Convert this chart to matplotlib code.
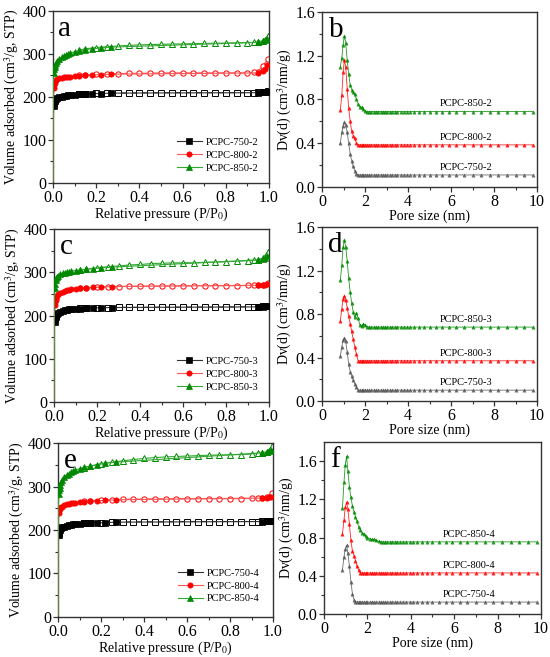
import matplotlib
matplotlib.use('Agg')
import matplotlib.pyplot as plt
import numpy as np

plt.rcParams['font.family'] = ['Liberation Serif', 'DejaVu Serif']
plt.rcParams['mathtext.fontset'] = 'stix'

# ---- isotherm data (relative pressure grid shared by all samples) ----
ads_p = [0.00001, 0.0001, 0.0005, 0.001, 0.002, 0.004, 0.006, 0.008, 0.01, 0.015,
         0.02, 0.03, 0.04, 0.05, 0.06, 0.07, 0.08, 0.1, 0.12, 0.15, 0.18, 0.22,
         0.27, 0.95, 0.97, 0.98, 0.99]
des_p = [0.995, 0.97, 0.95, 0.93, 0.9, 0.85, 0.8, 0.75, 0.7, 0.65, 0.6, 0.55,
         0.5, 0.45, 0.4, 0.35, 0.3, 0.25, 0.2, 0.15, 0.12]

ads_750_2 = [3, 40, 110, 140, 165, 180, 186, 190, 193, 196, 198, 200, 201, 202, 203,
             204, 204.5, 205.5, 206, 207, 207.5, 208, 209, 210, 210.5, 211, 212]
des_750_2 = [213, 211, 210.5, 210, 210, 210, 210, 210, 210, 210, 210, 210, 210, 210,
             209.5, 209.5, 209, 209, 208.5, 208, 207]
ads_800_2 = [3, 50, 130, 170, 200, 220, 228, 233, 236, 239, 241, 243, 244.5, 245.5,
             246.5, 247, 247.5, 248.5, 249, 250, 251, 252, 253, 256, 260, 265, 274]
des_800_2 = [288, 272, 259, 257, 256, 256, 256, 256, 256, 256, 256, 256, 256, 255.5,
             255, 255, 254, 253.5, 252.5, 251, 250]
ads_850_2 = [3, 60, 150, 200, 235, 255, 264, 270, 274, 279, 283, 288, 292, 295, 298,
             300, 302, 305, 307, 310, 312, 314, 316, 327, 330, 332, 335]
des_850_2 = [342, 331, 328, 327, 326.5, 326, 325.5, 325, 324.5, 324, 323.5, 323,
             322.5, 322, 321, 320, 318.5, 317, 315, 312, 309]

ads_750_3 = [3, 45, 120, 150, 172, 186, 192, 196, 199, 203, 205, 208, 210, 212, 213,
             214, 214.5, 215.5, 216, 217, 217.5, 218, 218.5, 220, 220.5, 221, 221.5]
des_750_3 = [222, 221, 220.5, 220, 220, 220, 219.5, 219.5, 219.5, 219.5, 219.5, 219.5,
             219.5, 219, 219, 219, 219, 218.5, 218, 217.5, 216.5]
ads_800_3 = [3, 50, 130, 175, 205, 225, 232, 237, 241, 246, 249, 252, 255, 257, 258.5,
             259.5, 260.5, 261.5, 262.5, 264, 265, 266, 267, 270, 270.5, 271, 272]
des_800_3 = [275, 271, 270, 269.5, 269.5, 269, 269, 269, 269, 269, 268.5, 268.5,
             268.5, 268, 268, 267.5, 267, 266.5, 265.5, 264, 263]
ads_850_3 = [3, 60, 150, 205, 240, 264, 274, 281, 286, 290, 292, 296, 298, 299, 300.5,
             301.5, 302.5, 304, 305.5, 307, 308.5, 310, 312, 328.5, 331, 334, 338]
des_850_3 = [348, 333, 329, 328, 327, 325.5, 324.5, 323.5, 323, 322, 322, 321.5, 321,
             320, 318, 317, 314.5, 313, 310, 307, 305]

ads_750_4 = [3, 45, 120, 150, 175, 188, 193, 199, 203, 205.5, 207, 208, 210, 211.5,
             212.5, 213, 213.5, 214.5, 215.5, 216, 216.5, 217, 218, 219.5, 220, 220.5, 221]
des_750_4 = [221, 220.5, 220, 219.5, 219.5, 219.5, 219.5, 219.5, 219.5, 219.5, 219.5,
             219.5, 219, 219, 219, 218.5, 218.5, 218, 217, 216, 215.5]
ads_800_4 = [3, 55, 140, 185, 215, 238, 245, 248, 251, 253, 254, 257, 259, 260.5,
             261.5, 262.5, 263, 264, 265, 266, 267, 268, 269.5, 273.5, 274.5, 275.5, 277]
des_800_4 = [285, 276, 274, 273, 272.5, 272, 272, 272, 272, 272, 272, 272, 271.5, 271.5,
             271, 271, 270.5, 270, 268.5, 267, 266]
ads_850_4 = [3, 70, 170, 225, 262, 283, 291, 297, 303, 310, 315.5, 323, 326.5, 329.5,
             332.5, 335, 337, 341, 344, 347, 350, 353.5, 356, 377.5, 380, 381.5, 384]
des_850_4 = [392, 379, 377.5, 376, 374.5, 373.5, 373, 372.5, 372, 371, 370, 369, 368,
             366.5, 364.5, 362, 359, 356, 352.5, 347, 343]

# ---- pore size distribution data ----
psd_x = [0.85, 0.92, 0.98, 1.04, 1.1, 1.17, 1.24, 1.31, 1.38, 1.45, 1.52, 1.6, 1.68,
         1.76, 1.84, 1.92, 2.0, 2.1, 2.2, 2.3, 2.4, 2.52, 2.62, 2.72, 2.82, 2.92,
         3.02, 3.14, 3.26, 3.38, 3.5, 3.65, 3.8, 3.95, 4.1, 4.3, 4.5, 4.75, 5.0, 5.3,
         5.6, 5.9, 6.25, 6.6, 7.0, 7.4, 7.8, 8.2, 8.6, 9.0, 9.4, 9.8]
n_x = len(psd_x)

def with_plateau(head, level):
    # curve read up to where it goes flat, then the flat level
    return head + [level] * (n_x - len(head))

psd_750_2 = with_plateau([0.40, 0.50, 0.56, 0.59, 0.57, 0.50, 0.40, 0.30, 0.24, 0.19,
                          0.15, 0.12], 0.11)
psd_800_2 = with_plateau([0.70, 0.84, 1.05, 1.16, 1.10, 0.90, 0.72, 0.60, 0.51, 0.47,
                          0.45, 0.40], 0.385)
psd_850_2 = with_plateau([1.10, 1.18, 1.30, 1.38, 1.32, 1.16, 1.03, 0.93, 0.89, 0.87,
                          0.85, 0.80, 0.76, 0.73, 0.73, 0.71, 0.695], 0.69)

psd_750_3 = with_plateau([0.41, 0.50, 0.56, 0.58, 0.55, 0.45, 0.34, 0.27, 0.23, 0.19,
                          0.16, 0.13], 0.10)
psd_800_3 = with_plateau([0.74, 0.85, 0.94, 0.97, 0.93, 0.86, 0.78, 0.71, 0.64, 0.57,
                          0.50, 0.43], 0.37)
psd_850_3 = with_plateau([1.11, 1.25, 1.42, 1.48, 1.42, 1.29, 1.13, 1.00, 0.90, 0.82,
                          0.77, 0.81, 0.76, 0.70, 0.69, 0.71, 0.70, 0.685], 0.68)

psd_750_4 = with_plateau([0.46, 0.60, 0.68, 0.72, 0.64, 0.50, 0.34, 0.21, 0.15, 0.13],
                         0.125)
psd_800_4 = with_plateau([0.84, 0.98, 1.12, 1.17, 1.10, 0.94, 0.77, 0.66, 0.61, 0.56,
                          0.50, 0.46], 0.43)
psd_850_4 = with_plateau([1.11, 1.38, 1.56, 1.65, 1.50, 1.33, 1.22, 1.13, 1.07, 1.02,
                          0.97, 0.91, 0.88, 0.85, 0.84, 0.82, 0.80, 0.79, 0.78, 0.78,
                          0.77, 0.76], 0.755)

temps = ['750', '800', '850']
colors_iso = ['black', '#ff0000', '#008800']
colors_psd = ['#555555', '#ff0000', '#008800']
line_iso = ['#333333', '#ff5555', '#33aa33']
markers = ['s', 'o', '^']

iso_sets = {
    '2': [(ads_750_2, des_750_2), (ads_800_2, des_800_2), (ads_850_2, des_850_2)],
    '3': [(ads_750_3, des_750_3), (ads_800_3, des_800_3), (ads_850_3, des_850_3)],
    '4': [(ads_750_4, des_750_4), (ads_800_4, des_800_4), (ads_850_4, des_850_4)],
}
psd_sets = {
    '2': [psd_750_2, psd_800_2, psd_850_2],
    '3': [psd_750_3, psd_800_3, psd_850_3],
    '4': [psd_750_4, psd_800_4, psd_850_4],
}

fig = plt.figure(figsize=(5.5, 6.57), dpi=100)

iso_pos = [[0.0964, 0.7215, 0.3927, 0.2618],
           [0.0982, 0.3881, 0.3910, 0.2633],
           [0.1055, 0.0609, 0.3910, 0.2648]]
psd_pos = [[0.5855, 0.7154, 0.3910, 0.2664],
           [0.5855, 0.3896, 0.3910, 0.2648],
           [0.5891, 0.0654, 0.3945, 0.2618]]
iso_letters = ['a', 'c', 'e']
psd_letters = ['b', 'd', 'f']
psd_ylim = [1.6, 1.6, 1.8]
legend_pad = [0.6, 0.6, 0.9]
ads_marked = list(range(5, len(ads_p)))


def style_axes(ax):
    for sp in ax.spines.values():
        sp.set_color('#333333')
        sp.set_linewidth(1.0)
    ax.tick_params(which='both', direction='out', top=False, right=False,
                   colors='#333333', labelcolor='black', labelsize=11.5)
    ax.tick_params(which='major', length=3.5, width=0.9, pad=1.2)
    ax.tick_params(which='minor', length=2, width=0.8)


for i, key in enumerate(['2', '3', '4']):
    # isotherm panel
    ax = fig.add_axes(iso_pos[i])
    for j, (ads, des) in enumerate(iso_sets[key]):
        ax.plot(des_p, des, '-', color=line_iso[j], lw=0.8, marker=markers[j], ms=3.8,
                mfc='white', mec=colors_iso[j], mew=0.7, zorder=2)
        ax.plot(ads_p, ads, '-', color=line_iso[j], lw=0.8, marker=markers[j], ms=3.8,
                mfc=colors_iso[j], mec=colors_iso[j], mew=0.5, zorder=3,
                markevery=ads_marked, label='PCPC-%s-%s' % (temps[j], key))
    ax.set_xlim(0, 1.0)
    ax.set_ylim(0, 400)
    ax.set_xticks(np.arange(0, 1.01, 0.2))
    ax.set_xticks(np.arange(0.1, 1.0, 0.2), minor=True)
    ax.set_yticks(np.arange(0, 401, 100))
    ax.set_yticks(np.arange(50, 400, 100), minor=True)
    ax.set_xticklabels(['0.0', '0.2', '0.4', '0.6', '0.8', '1.0'])
    style_axes(ax)
    ax.set_xlabel('Relative pressure (P/P$_0$)', fontsize=10, labelpad=0)
    ax.set_ylabel('Volume adsorbed (cm$^3$/g, STP)', fontsize=10, labelpad=1)
    ax.text(0.025, 0.97, iso_letters[i], transform=ax.transAxes, fontsize=21,
            ha='left', va='top')
    ax.legend(loc='lower right', frameon=False, fontsize=7.5, handlelength=2.4,
              handletextpad=0.4, labelspacing=0.35, borderaxespad=legend_pad[i])

    # pore size distribution panel
    ax = fig.add_axes(psd_pos[i])
    for j, y in enumerate(psd_sets[key]):
        ax.plot(psd_x, y, '-', color=colors_psd[j], lw=0.6, alpha=0.85, marker='^',
                ms=2.4, mfc=colors_psd[j], mec=colors_psd[j], mew=0.3)
        ax.text(6.7, y[-1] + 0.03, 'PCPC-%s-%s' % (temps[j], key), fontsize=7.5,
                ha='center', va='bottom')
    ax.set_xlim(0, 10)
    ax.set_ylim(0, psd_ylim[i])
    ax.set_xticks(np.arange(0, 11, 2))
    ax.set_xticks(np.arange(1, 10, 2), minor=True)
    ax.set_yticks(np.arange(0, psd_ylim[i] + 0.01, 0.4))
    ax.set_yticks(np.arange(0.2, psd_ylim[i], 0.4), minor=True)
    ax.yaxis.set_major_formatter(plt.FormatStrFormatter('%.1f'))
    style_axes(ax)
    ax.set_xlabel('Pore size (nm)', fontsize=10, labelpad=0)
    ax.set_ylabel('Dv(d) (cm$^3$/nm/g)', fontsize=10, labelpad=1)
    ax.text(0.03, 0.97, psd_letters[i], transform=ax.transAxes, fontsize=21,
            ha='left', va='top')

fig.savefig('out.png', dpi=100)
